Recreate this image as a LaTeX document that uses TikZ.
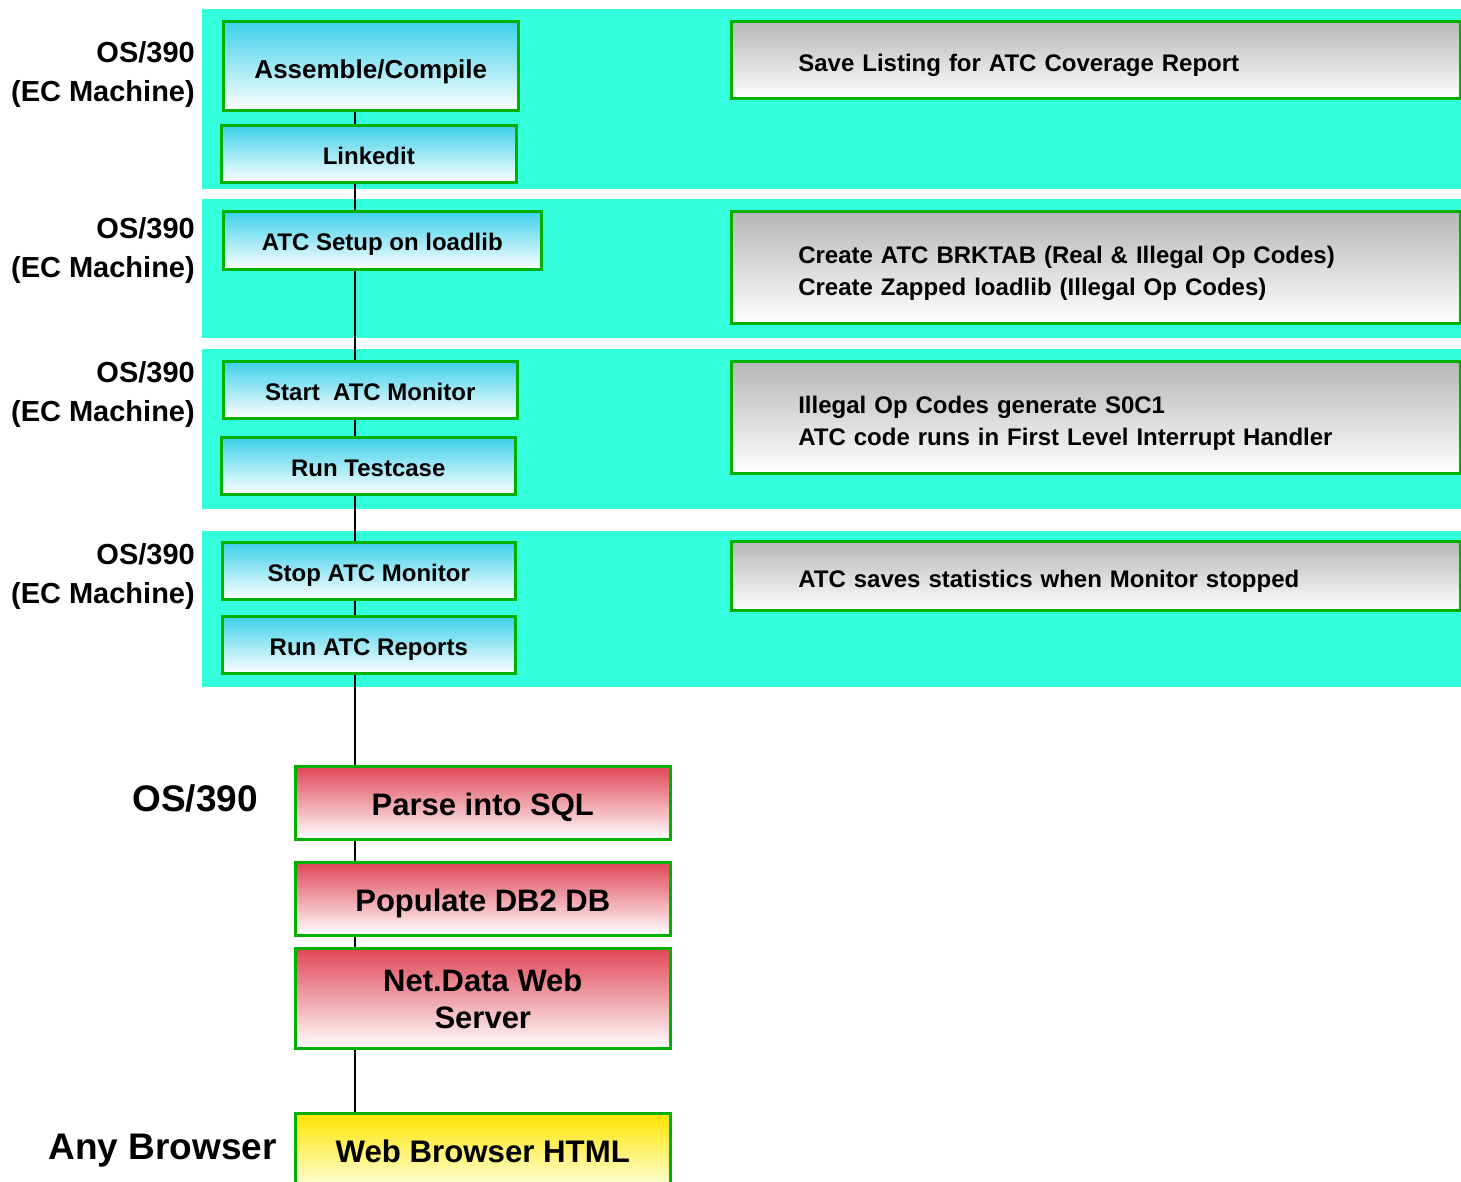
\documentclass[tikz,border=0pt]{standalone}
\usepackage{fontspec}
\setmainfont{Liberation Sans}
\pgfdeclarelayer{bg}
\pgfdeclarelayer{mid}
\pgfsetlayers{bg,mid,main}
\definecolor{bandc}{RGB}{51,255,221}
\definecolor{boxg}{RGB}{0,176,0}
\definecolor{bluec}{RGB}{60,208,234}
\definecolor{grayc}{RGB}{182,182,182}
\definecolor{redc}{RGB}{224,70,86}
\definecolor{yelc}{RGB}{255,228,0}
\begin{document}
\begin{tikzpicture}[x=1pt,y=-1pt,
  boxbase/.style={draw=boxg, line width=2.6pt, anchor=north west, inner sep=0pt, text depth=0pt},
  bluebox/.style={boxbase, top color=bluec, bottom color=white, font=\fontsize{24}{28}\selectfont\bfseries, text height=21pt},
  graybox/.style={boxbase, top color=grayc, bottom color=white, font=\fontsize{24}{32}\selectfont\bfseries,
     align=left, inner xsep=67pt, text width=595pt, minimum width=729pt, text height=23pt},
  twolines/.style={text height=24pt, text depth=32pt},
  redbase/.style={boxbase, top color=redc, bottom color=white, font=\fontsize{31}{37}\selectfont\bfseries,
     align=center, minimum width=375pt},
  redbox/.style={redbase, text height=25pt},
  yelbox/.style={boxbase, top color=yelc, bottom color=white!85!yellow, font=\fontsize{31.2}{37}\selectfont\bfseries,
     align=center, minimum width=375pt, text height=25pt},
  lab/.style={anchor=east, align=right, inner sep=0pt, text depth=0pt, font=\fontsize{29}{39}\selectfont\bfseries},
  biglab/.style={anchor=east, inner sep=0pt, text depth=0pt, font=\fontsize{37}{40}\selectfont\bfseries},
  conn/.style={draw=black, line width=2pt}
]
\useasboundingbox (0,0) rectangle (1461,1181);
\clip (0,0) rectangle (1461,1181);

% background bands
\begin{pgfonlayer}{bg}
\fill[white] (0,0) rectangle (1461,1181);
\fill[bandc] (202,9) rectangle (1461,189);
\fill[bandc] (202,199) rectangle (1461,338);
\fill[bandc] (202,349) rectangle (1461,509);
\fill[bandc] (202,531) rectangle (1461,687);
\end{pgfonlayer}

% labels
\node[lab] (l1) at (195,71.5) {OS/390\\(EC Machine)};
\node[lab] (l2) at (195,247.5) {OS/390\\(EC Machine)};
\node[lab] (l3) at (195,391) {OS/390\\(EC Machine)};
\node[lab] (l4) at (195,573) {OS/390\\(EC Machine)};
\node[biglab] (l5) at (258,798) {OS/390};
\node[biglab] (l6) at (277,1147) {Any Browser};

% blue boxes
\node[bluebox, font=\fontsize{26}{30}\selectfont\bfseries, text height=25pt, minimum width=295pt, minimum height=89pt] (asm) at (222,20) {Assemble/Compile};
\node[bluebox, minimum width=295pt, minimum height=57pt] (link) at (220,124) {Linkedit};
\node[bluebox, minimum width=318pt, minimum height=58pt] (setup) at (222,210) {ATC Setup on loadlib};
\node[bluebox, minimum width=294pt, minimum height=57pt] (start) at (222,360) {Start\ \ ATC Monitor};
\node[bluebox, minimum width=294pt, minimum height=57pt] (test) at (220,436) {Run Testcase};
\node[bluebox, minimum width=293pt, minimum height=57pt] (stop) at (221,541) {Stop ATC Monitor};
\node[bluebox, minimum width=293pt, minimum height=57pt] (rep) at (221,615) {Run ATC Reports};

% gray notes
\node[graybox, minimum height=77pt] (n1) at (730,20) {Save Listing for ATC Coverage Report};
\node[graybox, twolines, minimum height=112pt] (n2) at (730,210) {Create ATC BRKTAB (Real \& Illegal Op Codes)\\Create Zapped loadlib (Illegal Op Codes)};
\node[graybox, twolines, minimum height=112pt] (n3) at (730,360) {Illegal Op Codes generate S0C1\\ATC code runs in First Level Interrupt Handler};
\node[graybox, minimum height=69pt] (n4) at (730,540) {ATC saves statistics when Monitor stopped};

% red / yellow boxes
\node[redbox, minimum height=73pt] (parse) at (294,765) {Parse into SQL};
\node[redbox, minimum height=73pt] (pop) at (294,861) {Populate DB2 DB};
\node[redbase, minimum height=100pt] (net) at (294,947) {Net.Data Web\\Server};
\node[yelbox, minimum height=73pt] (web) at (294,1112) {Web Browser HTML};

% connectors
\coordinate (sp) at (355,0);
\begin{pgfonlayer}{mid}
\draw[conn] (asm.south -| sp) -- (link.north -| sp);
\draw[conn] (link.south -| sp) -- (setup.north -| sp);
\draw[conn] (setup.south -| sp) -- (start.north -| sp);
\draw[conn] (start.south -| sp) -- (test.north -| sp);
\draw[conn] (test.south -| sp) -- (stop.north -| sp);
\draw[conn] (stop.south -| sp) -- (rep.north -| sp);
\draw[conn] (rep.south -| sp) -- (parse.north -| sp);
\draw[conn] (parse.south -| sp) -- (pop.north -| sp);
\draw[conn] (pop.south -| sp) -- (net.north -| sp);
\draw[conn] (net.south -| sp) -- (web.north -| sp);
\end{pgfonlayer}
\end{tikzpicture}
\end{document}
